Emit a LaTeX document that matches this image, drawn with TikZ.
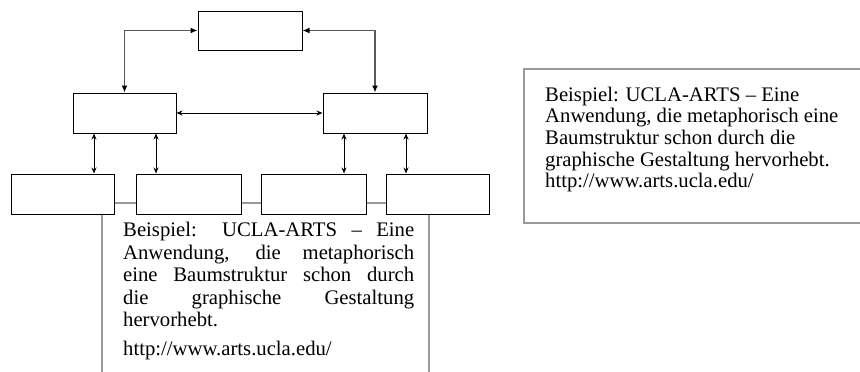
\documentclass[tikz,border=0pt]{standalone}
\usepackage{fontspec}
\setmainfont{Liberation Serif}
\usetikzlibrary{arrows.meta}
\begin{document}
\begin{tikzpicture}[x=1pt,y=-1pt,
  box/.style={draw=black,fill=white,line width=1pt,minimum width=#1,minimum height=40pt,inner sep=0pt},
  frame/.style={draw=black!40,line width=1.7pt,inner sep=0pt},
  elbow/.style={draw=black!65,line width=1.3pt,{Latex[length=7pt,width=6pt,color=black]}-{Latex[length=7pt,width=6pt,color=black]}},
  dbl/.style={draw=black,line width=1pt,{Stealth[length=6pt,width=5pt]}-{Stealth[length=6pt,width=5pt]}},
  txt/.style={inner sep=0pt,anchor=north west,font=\fontsize{20.7}{22.5}\selectfont}
]
\useasboundingbox (0,0) rectangle (860,372);
\clip (0,0) rectangle (860,372);

% gray frames
\node[frame,anchor=north west,minimum width=327pt,minimum height=200pt] (lframe) at (101,202) {};
\node[frame,anchor=north west,minimum width=360pt,minimum height=154pt] (rframe) at (523,68) {};

% boxes
\node[box=104pt,minimum height=39pt] (top) at (250,30.5) {};
\node[box=103pt] (midL) at (124.5,113) {};
\node[box=104pt] (midR) at (375,113) {};
\node[box=103pt] (b1) at (62.5,194) {};
\node[box=105pt] (b2) at (188.5,194) {};
\node[box=105pt] (b3) at (313.5,194) {};
\node[box=103pt] (b4) at (437.5,194) {};

% connectors
\draw[elbow] (top.west) -| (midL.north);
\draw[elbow] (top.east) -| (midR.north);
\draw[dbl] (midL.east) -- (midR.west);
\draw[dbl] (94,0 |- midL.south) -- (94,0 |- b1.north);
\draw[dbl] (156,0 |- midL.south) -- (156,0 |- b2.north);
\draw[dbl] (344,0 |- midR.south) -- (344,0 |- b3.north);
\draw[dbl] (406,0 |- midR.south) -- (406,0 |- b4.north);

% texts
\node[txt,text width=291pt,align=justify] (ltext) at (123,222)
  {Beispiel: UCLA-ARTS – Eine\linebreak Anwendung, die metaphorisch\linebreak eine Baumstruktur schon durch\linebreak die graphische Gestaltung\linebreak hervorhebt.\\[6pt]http://www.arts.ucla.edu/};
\node[txt,align=left,font=\fontsize{20.7}{21.7}\selectfont] (rtext) at (545,86.5)
  {Beispiel: UCLA-ARTS – Eine\\Anwendung, die metaphorisch eine\\Baumstruktur schon durch die\\graphische Gestaltung hervorhebt.\\http://www.arts.ucla.edu/};
\end{tikzpicture}
\end{document}
